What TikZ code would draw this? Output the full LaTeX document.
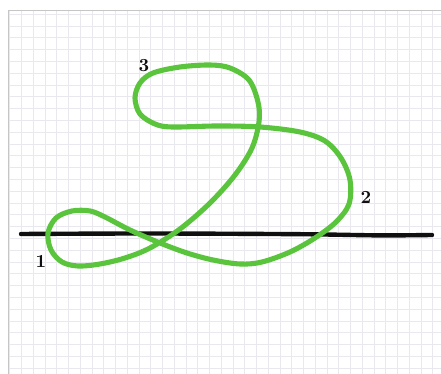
\documentclass[tikz,border=0pt]{standalone}
\usetikzlibrary{calc}
\usepackage{xcolor}
\definecolor{GridLine}{HTML}{E8E8EE}
\definecolor{Frame}{HTML}{C6C6C6}
\definecolor{Loop}{HTML}{5AC43C}
\definecolor{Ink}{HTML}{101010}
\tikzset{
  gridline/.style={GridLine,line width=0.55pt},
  frameline/.style={Frame,line width=1.1pt},
  loopline/.style={Loop,line width=2.9pt,line cap=round,line join=round},
  axisline/.style={Ink,line width=2.5pt,line cap=round},
  numlabel/.style={font=\bfseries\fontsize{10.5}{12}\selectfont,text=Ink,inner sep=0pt}
}
\begin{document}
\begin{tikzpicture}[x=0.02cm,y=-0.02cm]
\useasboundingbox (0,0) rectangle (441,374);
\fill[white] (0,0) rectangle (441,374);
% squared paper
\foreach \k in {0,...,36} {
  \draw[gridline] ({21.7+11.75*(\k-1)},10) -- ({21.7+11.75*(\k-1)},374);
}
\foreach \k in {0,...,30} {
  \draw[gridline] (9,{14.2+11.8*\k}) -- (441,{14.2+11.8*\k});
}
\draw[frameline] (8.5,374) -- (8.5,10.5) -- (441,10.5);
% the line
\draw[axisline] plot[smooth] coordinates {(21,234) (150,233.5) (300,234.2) (380,235.4) (432,235)};
% the closed curve
\draw[loopline] plot[smooth cycle,tension=0.55] coordinates {
  (258,102) (249,80) (230,68) (210,65) (180,67) (153,73) (140,83) (135,98)
  (140,114) (155,124) (172,127) (217,126) (260,127) (300,132) (325,141)
  (341,158) (350,180) (349,204) (336,222) (315,238) (290,252) (262,262)
  (240,264) (213,260) (187,253) (160,243) (130,230) (105,217) (90,211)
  (72,211) (56,218) (48,233) (51,250) (62,262) (78,266) (100,264)
  (125,258) (150,248) (180,229) (210,203) (235,175) (252,148) (259,122)};
\node[numlabel] (lbl3) at (144,66) {3};
\node[numlabel] (lbl2) at (366,197) {2};
\node[numlabel] (lbl1) at (41,261) {1};
\end{tikzpicture}
\end{document}
